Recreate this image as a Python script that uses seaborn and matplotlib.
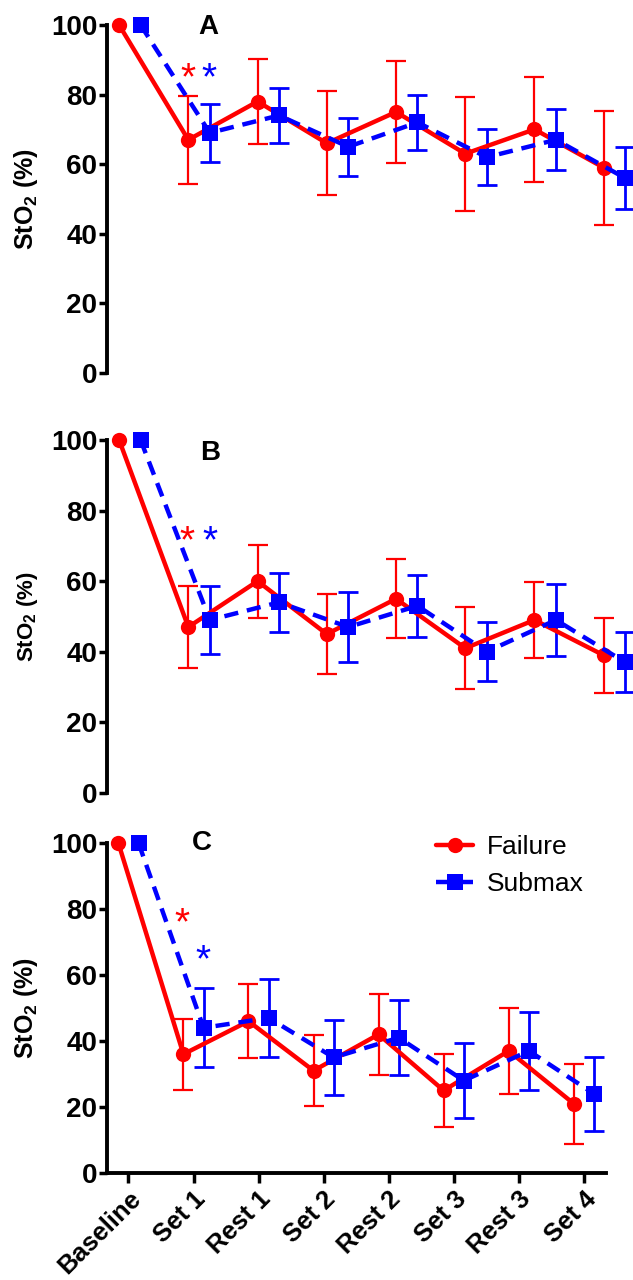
import numpy as np
import pandas as pd
import matplotlib
matplotlib.use('Agg')
import matplotlib.pyplot as plt
import seaborn as sns

# Time points (x categories)
timepoints = ['Baseline', 'Set 1', 'Rest 1', 'Set 2', 'Rest 2', 'Set 3', 'Rest 3', 'Set 4']
groups = ['Failure', 'Submax']

# Panel A
a_failure_mean = [100, 67, 78, 66, 75, 63, 70, 59]
a_failure_sd = [0, 12.7, 12.1, 15.0, 14.6, 16.4, 15.0, 16.4]
a_submax_mean = [100, 69, 74, 65, 72, 62, 67, 56]
a_submax_sd = [0, 8.4, 7.9, 8.4, 8.0, 8.0, 8.8, 9.0]

# Panel B
b_failure_mean = [100, 47, 60, 45, 55, 41, 49, 39]
b_failure_sd = [0, 11.7, 10.3, 11.3, 11.2, 11.6, 10.8, 10.7]
b_submax_mean = [100, 49, 54, 47, 53, 40, 49, 37]
b_submax_sd = [0, 9.5, 8.4, 9.8, 8.8, 8.4, 10.2, 8.5]

# Panel C
c_failure_mean = [100, 36, 46, 31, 42, 25, 37, 21]
c_failure_sd = [0, 10.8, 11.3, 10.7, 12.2, 11.2, 13.1, 12.1]
c_submax_mean = [100, 44, 47, 35, 41, 28, 37, 24]
c_submax_sd = [0, 12.0, 11.7, 11.3, 11.3, 11.3, 11.8, 11.2]

# significance stars (x in category units, y in %)
a_stars = [(0.84, 84.5, 'Failure'), (1.14, 84.5, 'Submax')]
b_stars = [(0.82, 71.0, 'Failure'), (1.16, 71.0, 'Submax')]
c_stars = [(0.83, 75.5, 'Failure'), (1.15, 64.0, 'Submax')]

colors = {'Failure': '#ff0000', 'Submax': '#0000ff'}
offsets = {'Failure': -0.155, 'Submax': 0.155}

sns.set_style('ticks')
plt.rcParams['font.family'] = ['Liberation Sans', 'DejaVu Sans']
plt.rcParams['mathtext.fontset'] = 'custom'
plt.rcParams['mathtext.rm'] = 'Liberation Sans'
plt.rcParams['mathtext.bf'] = 'Liberation Sans:bold'
plt.rcParams['text.color'] = 'black'
plt.rcParams['axes.labelcolor'] = 'black'
plt.rcParams['axes.edgecolor'] = 'black'
plt.rcParams['xtick.color'] = 'black'
plt.rcParams['ytick.color'] = 'black'

fig = plt.figure(figsize=(6.33, 12.8), dpi=100)

panels = [
    ('A', a_failure_mean, a_failure_sd, a_submax_mean, a_submax_sd, a_stars,
     [0.169, 0.7086, 0.8389, 0.2719], 0.19, 0.995, 18),
    ('B', b_failure_mean, b_failure_sd, b_submax_mean, b_submax_sd, b_stars,
     [0.169, 0.3805, 0.8389, 0.2758], 0.194, 0.963, 16),
    ('C', c_failure_mean, c_failure_sd, c_submax_mean, c_submax_sd, c_stars,
     [0.169, 0.0836, 0.7883, 0.2578], 0.19, 1.0, 18),
]

for letter, fm, fsd, sm, ssd, stars, pos, lx, ly, ylab_size in panels:
    ax = fig.add_axes(pos)
    last = letter == 'C'

    rows = []
    for g, means in zip(groups, [fm, sm]):
        for i, v in enumerate(means):
            rows.append({'x': i + offsets[g], 'StO2': v, 'group': g})
    df = pd.DataFrame(rows)

    # error bars (skip baseline, which has no spread)
    for g, means, sds in zip(groups, [fm, sm], [fsd, ssd]):
        x = np.arange(len(means))[1:] + offsets[g]
        lw = 1.6 if g == 'Failure' else 2.0
        ax.errorbar(x, means[1:], yerr=sds[1:], fmt='none', ecolor=colors[g],
                    elinewidth=lw, capsize=7, capthick=lw, zorder=2)

    sns.lineplot(data=df, x='x', y='StO2', hue='group', style='group',
                 hue_order=groups, style_order=groups, palette=colors,
                 markers={'Failure': 'o', 'Submax': 's'},
                 dashes={'Failure': '', 'Submax': (3.2, 2)},
                 linewidth=3.2, markersize=11, markeredgewidth=0,
                 clip_on=False, zorder=3, legend=last, ax=ax)

    for sx, sy, g in stars:
        ax.text(sx, sy, '*', color=colors[g], fontsize=28, ha='center', va='center')

    ax.text(lx, ly, letter, transform=ax.transAxes, fontsize=20, fontweight='bold',
            ha='center', va='center')

    ax.set_ylim(0, 100)
    ax.set_xlim(-0.33, 7.34)
    ax.set_yticks([0, 20, 40, 60, 80, 100])
    ax.set_ylabel(r'StO$_\mathbf{2}$ (%)', fontsize=ylab_size, fontweight='bold', labelpad=8)
    for lab in ax.get_yticklabels():
        lab.set_fontweight('bold')
    ax.tick_params(axis='y', labelsize=20, width=2.5, length=6, pad=1)
    ax.spines['left'].set_linewidth(2.8)
    sns.despine(ax=ax, bottom=not last)

    if last:
        ax.set_xticks(range(len(timepoints)))
        ax.set_xticklabels(timepoints, rotation=45, ha='right', rotation_mode='anchor',
                           fontsize=18.5, fontweight='bold')
        ax.tick_params(axis='x', width=2.5, length=7, pad=3)
        ax.spines['bottom'].set_linewidth(2.8)
        ax.set_xlabel('')
        sns.move_legend(ax, 'upper left', bbox_to_anchor=(0.652, 0.366),
                        bbox_transform=fig.transFigure, title=None, frameon=False,
                        fontsize=19, handlelength=1.4, handletextpad=0.5,
                        labelspacing=0.5)
    else:
        ax.set_xticks([])
        ax.set_xlabel('')

fig.savefig('out.png', dpi=100)
